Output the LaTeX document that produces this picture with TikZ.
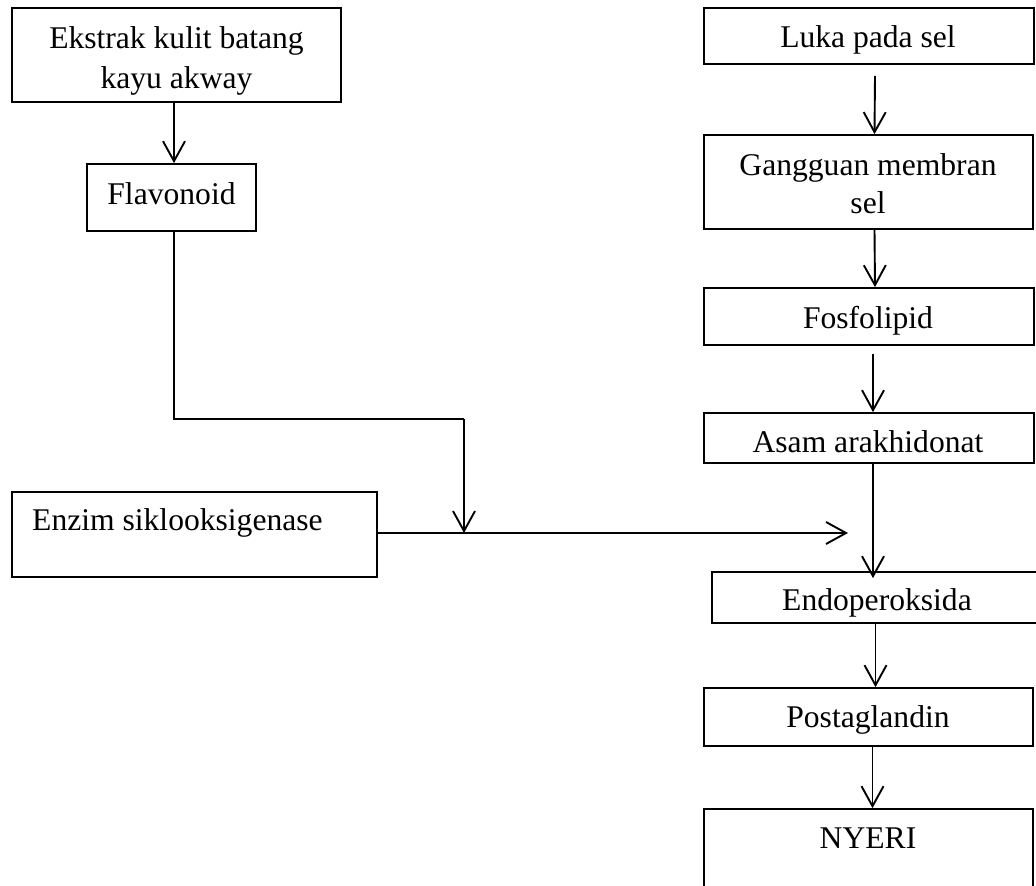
\documentclass[tikz,border=0pt]{standalone}
\usepackage{fontspec}
\setmainfont{Liberation Serif}
\usetikzlibrary{arrows.meta}
\begin{document}
\begin{tikzpicture}[x=1pt,y=-1pt,
  box/.style={draw,line width=1.7pt,inner sep=0pt,minimum width=#1},
  lbl/.style={anchor=base,inner sep=0pt,font=\fontsize{31.6}{38}\selectfont},
  arr/.style={line width=1.9pt,-{Straight Barb[length=20pt,width=22pt,line width=1.9pt]}},
  ln/.style={line width=1.9pt}]
\useasboundingbox (0,0) rectangle (1036,886);
\clip (0,0) rectangle (1036,886);
% boxes
\node[box=329pt,minimum height=94pt] (ekstrak) at (176.5,55) {};
\node[box=169pt,minimum height=67pt] (flav) at (171.5,197.5) {};
\node[box=330pt,minimum height=56pt] (luka) at (869,36) {};
\node[box=329pt,minimum height=94pt] (gang) at (868.5,182) {};
\node[box=330pt,minimum height=57pt] (fosfo) at (869,316.5) {};
\node[box=330pt,minimum height=50pt] (asam) at (869,438) {};
\node[box=365pt,minimum height=85pt] (enzim) at (194.5,534.5) {};
\node[box=338pt,minimum height=51pt] (endo) at (881,597.5) {};
\node[box=329pt,minimum height=58pt] (posta) at (868.5,717) {};
\node[box=329pt,minimum height=91pt] (nyeri) at (868.5,854.5) {};
% texts
\node[lbl] (t1a) at (176.5,48) {Ekstrak kulit batang};
\node[lbl] (t1b) at (176.5,88) {kayu akway};
\node[lbl] (t2) at (171.5,204) {Flavonoid};
\node[lbl] (t3) at (868,47) {Luka pada sel};
\node[lbl] (t4a) at (868,175) {Gangguan membran};
\node[lbl] (t4b) at (868,213) {sel};
\node[lbl] (t5) at (868,328) {Fosfolipid};
\node[lbl] (t6) at (868,452) {Asam arakhidonat};
\node[lbl,anchor=base west] (t7) at (32,530) {Enzim siklooksigenase};
\node[lbl] (t8) at (877,610) {Endoperoksida};
\node[lbl] (t9) at (868,727) {Postaglandin};
\node[lbl] (t10) at (868,848) {NYERI};
% coordinates
\coordinate (c1) at (174,419);
\coordinate (c2) at (464,419);
\coordinate (j) at (464,533);
\coordinate (h) at (848,533);
% connectors
\draw[arr] (ekstrak.south -| c1) -- (flav.north -| c1);
\draw[ln] (flav.south -| c1) -- (c1) -- (c2);
\draw[arr] (c2) -- (j);
\draw[arr] (enzim.east |- j) -- (h);
\draw[arr] ([xshift=6pt,yshift=-11pt]luka.south) -- ([xshift=6pt]gang.north);
\draw[arr] ([xshift=6pt]gang.south) -- ([xshift=6pt]fosfo.north);
\draw[arr] ([xshift=4pt,yshift=-8pt]fosfo.south) -- ([xshift=4pt]asam.north);
\draw[arr] ([xshift=4pt]asam.south) -- ([xshift=4pt,yshift=-7pt]endo.north -| asam.south);
\draw[arr] ([xshift=7pt]endo.south -| posta.south) -- ([xshift=7pt]posta.north);
\draw[arr] ([xshift=4pt]posta.south) -- ([xshift=4pt]nyeri.north);
\end{tikzpicture}
\end{document}
